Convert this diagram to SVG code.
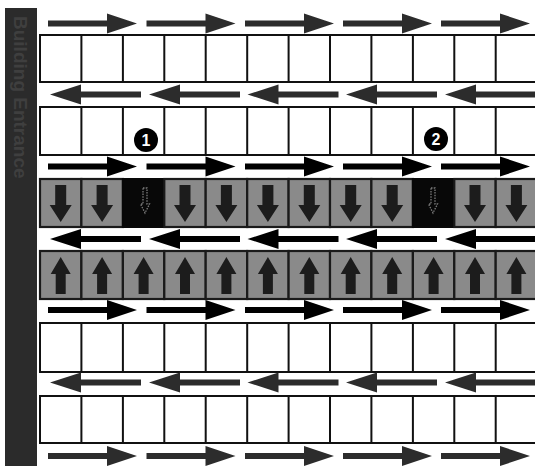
<svg xmlns="http://www.w3.org/2000/svg" xmlns:xlink="http://www.w3.org/1999/xlink" width="535" height="470" viewBox="0 0 535 470">
<style>
.cellrow{fill:#ffffff;stroke:#111;stroke-width:2}
.vl{fill:none;stroke:#111;stroke-width:2}
.gcell{fill:#8a8a8a;stroke:#1a1a1a;stroke-width:2.2}
.bcell{fill:#080808;stroke:#080808;stroke-width:2}
.carrow{fill:#1c1c1c}
.ghost{fill:none;stroke:#7a7a7a;stroke-width:1.3;stroke-dasharray:1.5 1.2}
.lane-g{fill:#2c2c2c}
.lane-b{fill:#000}
.num{fill:#fff;font-family:"Liberation Sans",Arial,sans-serif;font-weight:bold;font-size:16px;text-anchor:middle}
.bartxt{fill:#3f3f3f;font-family:"Liberation Sans",Arial,sans-serif;font-weight:bold;font-size:19px}
</style>
<defs>
<path id="ra" d="M0,-3H59V-10L89,0L59,10V3H0Z"/>
<path id="la" d="M0,0L31,-10V-3H91V3H31V10Z"/>
<path id="da" d="M-5.5,0H5.5V20H11L0,37L-11,20H-5.5Z"/>
<path id="ua" d="M0,0L10,17H5V37H-5V17H-10Z"/>
<path id="ga" d="M-2,0H2V16H4.5L0,25L-4.5,16H-2Z"/>
</defs>

<g id="bar">
<rect x="5" y="8" width="32" height="458" fill="#2b2b2b"/>
<text class="bartxt" transform="translate(14,16) rotate(90)">Building Entrance</text>
</g>

<g id="row1">
<rect class="cellrow" x="40" y="35" width="500" height="47"/>
<path class="vl" d="M81.4,35V82M122.9,35V82M164.3,35V82M205.7,35V82M247.2,35V82M288.6,35V82M330,35V82M371.4,35V82M412.9,35V82M454.3,35V82M495.7,35V82"/>
</g>

<g id="row2">
<rect class="cellrow" x="40" y="107" width="500" height="48"/>
<path class="vl" d="M81.4,107V155M122.9,107V155M164.3,107V155M205.7,107V155M247.2,107V155M288.6,107V155M330,107V155M371.4,107V155M412.9,107V155M454.3,107V155M495.7,107V155"/>
</g>

<g id="stall1">
<circle cx="146" cy="140" r="12" fill="#000"/>
<text class="num" x="146" y="146">1</text>
</g>
<g id="stall2">
<circle cx="436" cy="139" r="12" fill="#000"/>
<text class="num" x="436" y="145">2</text>
</g>

<g id="row3">
<rect class="gcell" x="40" y="179" width="41.4" height="48"/>
<rect class="gcell" x="81.4" y="179" width="41.5" height="48"/>
<rect class="bcell" x="122.9" y="179" width="41.4" height="48"/>
<rect class="gcell" x="164.3" y="179" width="41.4" height="48"/>
<rect class="gcell" x="205.7" y="179" width="41.5" height="48"/>
<rect class="gcell" x="247.2" y="179" width="41.4" height="48"/>
<rect class="gcell" x="288.6" y="179" width="41.4" height="48"/>
<rect class="gcell" x="330" y="179" width="41.4" height="48"/>
<rect class="gcell" x="371.4" y="179" width="41.5" height="48"/>
<rect class="bcell" x="412.9" y="179" width="41.4" height="48"/>
<rect class="gcell" x="454.3" y="179" width="41.4" height="48"/>
<rect class="gcell" x="495.7" y="179" width="45" height="48"/>
<g class="carrow">
<use href="#da" x="60.7" y="185"/>
<use href="#da" x="102.1" y="185"/>
<use href="#da" x="185" y="185"/>
<use href="#da" x="226.4" y="185"/>
<use href="#da" x="267.9" y="185"/>
<use href="#da" x="309.3" y="185"/>
<use href="#da" x="350.7" y="185"/>
<use href="#da" x="392.2" y="185"/>
<use href="#da" x="475" y="185"/>
<use href="#da" x="516.4" y="185"/>
</g>
<g class="ghost">
<use href="#ga" x="145" y="188"/>
<use href="#ga" x="433" y="188"/>
</g>
</g>

<g id="row4">
<rect class="gcell" x="40" y="251" width="41.4" height="48"/>
<rect class="gcell" x="81.4" y="251" width="41.5" height="48"/>
<rect class="gcell" x="122.9" y="251" width="41.4" height="48"/>
<rect class="gcell" x="164.3" y="251" width="41.4" height="48"/>
<rect class="gcell" x="205.7" y="251" width="41.5" height="48"/>
<rect class="gcell" x="247.2" y="251" width="41.4" height="48"/>
<rect class="gcell" x="288.6" y="251" width="41.4" height="48"/>
<rect class="gcell" x="330" y="251" width="41.4" height="48"/>
<rect class="gcell" x="371.4" y="251" width="41.5" height="48"/>
<rect class="gcell" x="412.9" y="251" width="41.4" height="48"/>
<rect class="gcell" x="454.3" y="251" width="41.4" height="48"/>
<rect class="gcell" x="495.7" y="251" width="45" height="48"/>
<g class="carrow">
<use href="#ua" x="60.7" y="257"/>
<use href="#ua" x="102.1" y="257"/>
<use href="#ua" x="143.6" y="257"/>
<use href="#ua" x="185" y="257"/>
<use href="#ua" x="226.4" y="257"/>
<use href="#ua" x="267.9" y="257"/>
<use href="#ua" x="309.3" y="257"/>
<use href="#ua" x="350.7" y="257"/>
<use href="#ua" x="392.2" y="257"/>
<use href="#ua" x="433.6" y="257"/>
<use href="#ua" x="475" y="257"/>
<use href="#ua" x="516.4" y="257"/>
</g>
</g>

<g id="row5">
<rect class="cellrow" x="40" y="323" width="500" height="49"/>
<path class="vl" d="M81.4,323V372M122.9,323V372M164.3,323V372M205.7,323V372M247.2,323V372M288.6,323V372M330,323V372M371.4,323V372M412.9,323V372M454.3,323V372M495.7,323V372"/>
</g>

<g id="row6">
<rect class="cellrow" x="40" y="396" width="500" height="47"/>
<path class="vl" d="M81.4,396V443M122.9,396V443M164.3,396V443M205.7,396V443M247.2,396V443M288.6,396V443M330,396V443M371.4,396V443M412.9,396V443M454.3,396V443M495.7,396V443"/>
</g>

<g id="connectors">
<g class="lane-g">
<use href="#ra" x="48" y="23.5"/>
<use href="#ra" x="146.5" y="23.5"/>
<use href="#ra" x="245" y="23.5"/>
<use href="#ra" x="343" y="23.5"/>
<use href="#ra" x="441" y="23.5"/>
</g>
<g class="lane-g">
<use href="#la" x="50" y="94.5"/>
<use href="#la" x="149" y="94.5"/>
<use href="#la" x="247.5" y="94.5"/>
<use href="#la" x="346" y="94.5"/>
<use href="#la" x="445" y="94.5"/>
</g>
<g class="lane-b">
<use href="#ra" x="48" y="166.5"/>
<use href="#ra" x="146.5" y="166.5"/>
<use href="#ra" x="245" y="166.5"/>
<use href="#ra" x="343" y="166.5"/>
<use href="#ra" x="441" y="166.5"/>
</g>
<g class="lane-b">
<use href="#la" x="50" y="239"/>
<use href="#la" x="149" y="239"/>
<use href="#la" x="247.5" y="239"/>
<use href="#la" x="346" y="239"/>
<use href="#la" x="445" y="239"/>
</g>
<g class="lane-b">
<use href="#ra" x="48" y="310"/>
<use href="#ra" x="146.5" y="310"/>
<use href="#ra" x="245" y="310"/>
<use href="#ra" x="343" y="310"/>
<use href="#ra" x="441" y="310"/>
</g>
<g class="lane-g">
<use href="#la" x="50" y="382.5"/>
<use href="#la" x="149" y="382.5"/>
<use href="#la" x="247.5" y="382.5"/>
<use href="#la" x="346" y="382.5"/>
<use href="#la" x="445" y="382.5"/>
</g>
<g class="lane-g">
<use href="#ra" x="48" y="456"/>
<use href="#ra" x="146.5" y="456"/>
<use href="#ra" x="245" y="456"/>
<use href="#ra" x="343" y="456"/>
<use href="#ra" x="441" y="456"/>
</g>
</g>
</svg>
